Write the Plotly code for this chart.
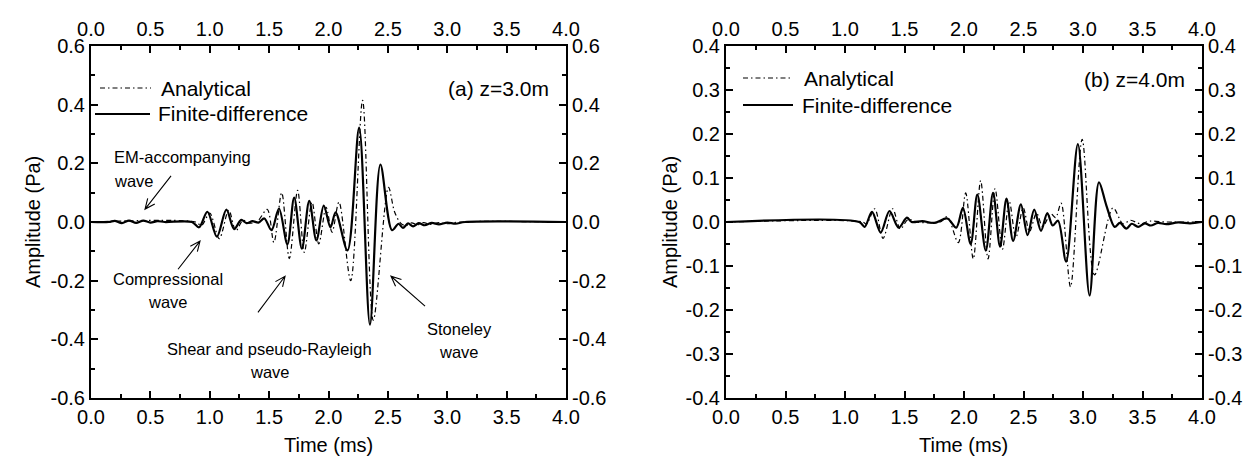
import math
import plotly.graph_objects as go

# ---------------- data ----------------
# Panel (a) z = 3.0 m : finite-difference (solid)
t_fd_a = [0.0, 0.15, 0.2, 0.26, 0.32, 0.38, 0.44, 0.5, 0.56, 0.62, 0.85, 0.91, 0.98, 1.06,
          1.14, 1.205, 1.265, 1.31, 1.36, 1.41, 1.46, 1.52, 1.583, 1.654, 1.711, 1.776,
          1.838, 1.898, 1.96, 2.017, 2.06, 2.16, 2.258, 2.349, 2.437, 2.535, 2.59, 2.627,
          2.67, 2.712, 2.76, 2.81, 2.87, 2.93, 3.0, 3.07, 3.15, 4.0]
amp_fd_a = [0.0, 0.0, 0.004, -0.004, 0.005, -0.003, 0.005, -0.002, 0.003, 0.0, 0.0, -0.018,
            0.035, -0.05, 0.042, -0.024, 0.007, -0.004, 0.003, -0.002, 0.012, -0.028, 0.046,
            -0.076, 0.083, -0.091, 0.072, -0.063, 0.056, -0.018, 0.033, -0.097, 0.322,
            -0.35, 0.196, -0.028, -0.006, -0.02, -0.005, -0.015, -0.004, -0.011, -0.003,
            -0.008, -0.002, -0.006, 0.0, 0.0]
# Panel (a) z = 3.0 m : analytical (dash-dot)
t_an_a = [0.0, 0.88, 0.93, 1.0, 1.08, 1.16, 1.22, 1.28, 1.33, 1.40, 1.484, 1.54, 1.606,
          1.67, 1.74, 1.796, 1.861, 1.918, 1.98, 2.03, 2.088, 2.187, 2.287, 2.377, 2.505,
          2.556, 2.61, 2.65, 2.70, 2.75, 2.80, 2.86, 2.93, 3.0, 3.1, 4.0]
amp_an_a = [0.0, 0.0, -0.012, 0.03, -0.057, 0.04, -0.03, 0.006, -0.004, 0.002, 0.043,
            -0.07, 0.1, -0.125, 0.108, -0.104, 0.068, -0.075, 0.05, -0.035, 0.068, -0.2,
            0.415, -0.335, 0.118, 0.035, -0.005, -0.012, -0.003, -0.01, -0.002, -0.008,
            -0.002, -0.006, 0.0, 0.0]

# Panel (b) z = 4.0 m : finite-difference (solid)
t_fd_b = [0.0, 1.12, 1.165, 1.227, 1.30, 1.374, 1.451, 1.52, 1.56, 1.65, 1.75, 1.86, 1.935,
          1.991, 2.056, 2.112, 2.183, 2.244, 2.303, 2.357, 2.413, 2.478, 2.534, 2.59, 2.647,
          2.70, 2.745, 2.79, 2.858, 2.957, 3.055, 3.134, 3.196, 3.266, 3.31, 3.364, 3.41,
          3.463, 3.52, 3.57, 3.63, 3.7, 3.8, 3.9, 4.0]
amp_fd_b = [0.0, 0.0, -0.011, 0.023, -0.024, 0.025, -0.013, 0.01, 0.0, 0.002, -0.002, 0.008,
            -0.013, 0.032, -0.05, 0.062, -0.065, 0.066, -0.056, 0.053, -0.043, 0.04, -0.03,
            0.028, -0.02, 0.02, -0.008, 0.003, -0.09, 0.177, -0.167, 0.09, 0.038, -0.011,
            -0.002, -0.015, -0.004, -0.011, -0.003, -0.008, -0.002, -0.005, -0.001, -0.003,
            0.0]
# Panel (b) z = 4.0 m : analytical (dash-dot)
t_an_b = [0.0, 1.15, 1.18, 1.25, 1.32, 1.40, 1.465, 1.53, 1.6, 1.8, 1.859, 1.952, 2.014,
          2.078, 2.14, 2.202, 2.261, 2.323, 2.38, 2.436, 2.498, 2.55, 2.61, 2.66, 2.73,
          2.77, 2.816, 2.895, 2.993, 3.097, 3.252, 3.336, 3.40, 3.48, 3.56, 3.7, 4.0]
amp_an_b = [0.0, 0.0, -0.005, 0.03, -0.037, 0.03, -0.016, 0.006, 0.0, 0.0, 0.012, -0.047,
            0.066, -0.084, 0.094, -0.084, 0.076, -0.062, 0.047, -0.035, 0.032, -0.022, 0.02,
            -0.01, 0.018, 0.01, 0.043, -0.147, 0.188, -0.12, 0.032, -0.004, 0.004, -0.004,
            0.002, 0.0, 0.0]

series_names = ["Analytical", "Finite-difference"]

x_tick_vals = [0.0, 0.5, 1.0, 1.5, 2.0, 2.5, 3.0, 3.5, 4.0]
x_tick_text = ["0.0", "0.5", "1.0", "1.5", "2.0", "2.5", "3.0", "3.5", "4.0"]
x_minor_vals = [0.25, 0.75, 1.25, 1.75, 2.25, 2.75, 3.25, 3.75]

y_tick_vals_a = [-0.6, -0.4, -0.2, 0.0, 0.2, 0.4, 0.6]
y_tick_text_a = ["-0.6", "-0.4", "-0.2", "0.0", "0.2", "0.4", "0.6"]
y_minor_vals_a = [-0.5, -0.3, -0.1, 0.1, 0.3, 0.5]

y_tick_vals_b = [-0.4, -0.3, -0.2, -0.1, 0.0, 0.1, 0.2, 0.3, 0.4]
y_tick_text_b = ["-0.4", "-0.3", "-0.2", "-0.1", "0.0", "0.1", "0.2", "0.3", "0.4"]
y_minor_vals_b = [-0.35, -0.25, -0.15, -0.05, 0.05, 0.15, 0.25, 0.35]

# ---------------- layout geometry ----------------
W, H = 1251, 456
FONT = "Liberation Sans, Arial, Helvetica, sans-serif"
LEFT_PX = (83, 558)
RIGHT_PX = (718, 1194)
TOP_PX, BOT_PX = 38, 390
LEFT_DOM = [LEFT_PX[0] / W, LEFT_PX[1] / W]
RIGHT_DOM = [RIGHT_PX[0] / W, RIGHT_PX[1] / W]
Y_DOM = [1 - BOT_PX / H, 1 - TOP_PX / H]
X_RANGE = [0, 4]
Y_RANGE_A = [-0.6, 0.6]
Y_RANGE_B = [-0.4, 0.4]

AN_DASH = "5px,3px,1.5px,3px"
AN_LINE = dict(color="black", width=1.2, dash=AN_DASH)
FD_LINE = dict(color="black", width=2.2)

fig = go.Figure()


def add_panel(t_an, a_an, t_fd, a_fd, xa, ya, xo, yo):
    fig.add_trace(go.Scatter(x=t_an, y=a_an, mode="lines", name=series_names[0],
                             line=dict(shape="spline", smoothing=0.9, **AN_LINE),
                             xaxis=xa, yaxis=ya, showlegend=False, hoverinfo="skip"))
    fig.add_trace(go.Scatter(x=t_fd, y=a_fd, mode="lines", name=series_names[1],
                             line=dict(shape="spline", smoothing=0.9, **FD_LINE),
                             xaxis=xa, yaxis=ya, showlegend=False, hoverinfo="skip"))
    # invisible copy so the mirrored (top / right) labelled axes are drawn
    fig.add_trace(go.Scatter(x=t_fd, y=a_fd, mode="lines", line=dict(width=0), opacity=0,
                             xaxis=xo, yaxis=yo, showlegend=False, hoverinfo="skip"))


add_panel(t_an_a, amp_an_a, t_fd_a, amp_fd_a, "x", "y", "x3", "y3")
add_panel(t_an_b, amp_an_b, t_fd_b, amp_fd_b, "x2", "y2", "x4", "y4")

TICKFONT = dict(family=FONT, size=20, color="black")
AX_COMMON = dict(ticks="inside", ticklen=7, tickwidth=1.5, tickcolor="black",
                 showline=True, linecolor="black", linewidth=2, showgrid=False,
                 zeroline=False, tickfont=TICKFONT, fixedrange=True, automargin=False,
                 tickmode="array")


def xaxis(domain, anchor, side, overlaying=None):
    d = dict(domain=domain, anchor=anchor, side=side, range=X_RANGE,
             tickvals=x_tick_vals, ticktext=x_tick_text,
             minor=dict(tickmode="array", tickvals=x_minor_vals, ticks="inside",
                        ticklen=4, tickwidth=1.5, tickcolor="black", showgrid=False),
             **AX_COMMON)
    if overlaying:
        d["overlaying"] = overlaying
    return d


def yaxis(domain, anchor, side, rng, vals, text, minor_vals, overlaying=None):
    d = dict(domain=domain, anchor=anchor, side=side, range=rng,
             tickvals=vals, ticktext=text,
             minor=dict(tickmode="array", tickvals=minor_vals, ticks="inside",
                        ticklen=4, tickwidth=1.5, tickcolor="black", showgrid=False),
             **AX_COMMON)
    if overlaying:
        d["overlaying"] = overlaying
    return d


fig.update_layout(
    width=W, height=H, autosize=False,
    margin=dict(l=0, r=0, t=0, b=0, autoexpand=False),
    paper_bgcolor="white", plot_bgcolor="white",
    font=dict(family=FONT, color="black"),
    showlegend=False,
    xaxis=xaxis(LEFT_DOM, "y", "bottom"),
    yaxis=yaxis(Y_DOM, "x", "left", Y_RANGE_A, y_tick_vals_a, y_tick_text_a, y_minor_vals_a),
    xaxis3=xaxis(LEFT_DOM, "y", "top", overlaying="x"),
    yaxis3=yaxis(Y_DOM, "x", "right", Y_RANGE_A, y_tick_vals_a, y_tick_text_a,
                 y_minor_vals_a, overlaying="y"),
    xaxis2=xaxis(RIGHT_DOM, "y2", "bottom"),
    yaxis2=yaxis(Y_DOM, "x2", "left", Y_RANGE_B, y_tick_vals_b, y_tick_text_b, y_minor_vals_b),
    xaxis4=xaxis(RIGHT_DOM, "y2", "top", overlaying="x2"),
    yaxis4=yaxis(Y_DOM, "x2", "right", Y_RANGE_B, y_tick_vals_b, y_tick_text_b,
                 y_minor_vals_b, overlaying="y2"),
)

ANN_FONT = dict(family=FONT, size=16.5, color="black")
BIG_FONT = dict(family=FONT, size=21, color="black")
annotations = []
shapes = []

# axis titles
for dom in (LEFT_DOM, RIGHT_DOM):
    annotations.append(dict(text="Time (ms)", x=(dom[0] + dom[1]) / 2, y=1 - 437 / H,
                            xref="paper", yref="paper", showarrow=False,
                            xanchor="center", yanchor="middle",
                            font=dict(family=FONT, size=20, color="black")))
for xpx in (25, 662):
    annotations.append(dict(text="Amplitude (Pa)", x=xpx / W, y=1 - 214 / H, textangle=-90,
                            xref="paper", yref="paper", showarrow=False,
                            xanchor="center", yanchor="middle",
                            font=dict(family=FONT, size=20, color="black")))

# legends drawn inside each panel (sample line + name), pixel positions of the key
legend_keys = [
    [(92, 143, 151, 80), (87, 142, 148, 106)],
    [(735, 785, 794, 70), (735, 785, 792, 97)],
]
for keys in legend_keys:
    for i, (x0, x1, xt, yp) in enumerate(keys):
        line_style = AN_LINE if i == 0 else FD_LINE
        shapes.append(dict(type="line", xref="paper", yref="paper",
                           x0=x0 / W, x1=x1 / W, y0=1 - yp / H, y1=1 - yp / H,
                           line=dict(color="black", width=line_style["width"],
                                     dash=line_style.get("dash", "solid"))))
        annotations.append(dict(text=series_names[i], x=xt / W, y=1 - yp / H,
                                xref="paper", yref="paper", showarrow=False,
                                xanchor="left", yanchor="middle", font=BIG_FONT))

# panel labels
annotations.append(dict(text="(a) z=3.0m", x=2.99, y=0.455, xref="x", yref="y",
                        showarrow=False, xanchor="left", yanchor="middle", font=BIG_FONT))
annotations.append(dict(text="(b) z=4.0m", x=2.99, y=0.323, xref="x2", yref="y2",
                        showarrow=False, xanchor="left", yanchor="middle", font=BIG_FONT))

# wave labels in panel (a)
labels_a = [
    ("EM-accompanying", 0.177, 0.222, "left"),
    ("wave", 0.177, 0.140, "left"),
    ("Compressional", 0.648, -0.195, "center"),
    ("wave", 0.648, -0.274, "center"),
    ("Shear and pseudo-Rayleigh", 1.507, -0.434, "center"),
    ("wave", 1.507, -0.513, "center"),
    ("Stoneley", 3.10, -0.366, "center"),
    ("wave", 3.10, -0.444, "center"),
]
for txt, xx, yy, anc in labels_a:
    annotations.append(dict(text=txt, x=xx, y=yy, xref="x", yref="y", showarrow=False,
                            xanchor=anc, yanchor="middle", font=ANN_FONT))


# open "V" arrows in panel (a): (head t, head amp, tail t, tail amp)
def to_px(t, a):
    px = LEFT_PX[0] + (t - X_RANGE[0]) / (X_RANGE[1] - X_RANGE[0]) * (LEFT_PX[1] - LEFT_PX[0])
    py = BOT_PX - (a - Y_RANGE_A[0]) / (Y_RANGE_A[1] - Y_RANGE_A[0]) * (BOT_PX - TOP_PX)
    return px, py


arrows_a = [
    (0.455, 0.044, 0.674, 0.157),
    (0.918, -0.065, 0.733, -0.161),
    (1.634, -0.185, 1.406, -0.308),
    (2.526, -0.185, 2.813, -0.287),
]
BARB_LEN, BARB_ANG = 11.0, math.radians(24)
for hx, hy, tx, ty in arrows_a:
    hpx, hpy = to_px(hx, hy)
    tpx, tpy = to_px(tx, ty)
    dx, dy = hpx - tpx, hpy - tpy
    n = math.hypot(dx, dy)
    ux, uy = dx / n, dy / n
    pts = []
    for s in (1, -1):
        ca, sa = math.cos(s * BARB_ANG), math.sin(s * BARB_ANG)
        rx, ry = ux * ca - uy * sa, ux * sa + uy * ca
        pts.append((hpx - BARB_LEN * rx, hpy - BARB_LEN * ry))

    def P(x, y):
        return f"{x / W:.5f},{1 - y / H:.5f}"

    path = (f"M{P(tpx, tpy)} L{P(hpx, hpy)} "
            f"M{P(*pts[0])} L{P(hpx, hpy)} L{P(*pts[1])}")
    shapes.append(dict(type="path", xref="paper", yref="paper", path=path,
                       line=dict(color="black", width=1.1)))

fig.update_layout(annotations=annotations, shapes=shapes)

fig.write_html("out.html")
